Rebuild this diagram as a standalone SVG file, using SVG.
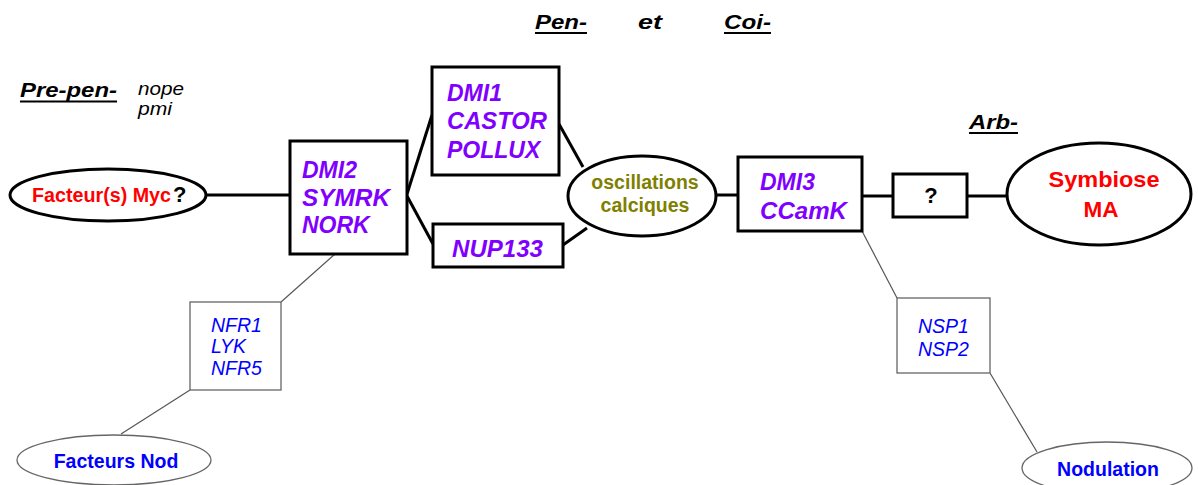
<svg xmlns="http://www.w3.org/2000/svg" width="1198" height="485" viewBox="0 0 1198 485">
<style>
text{font-family:"Liberation Sans",Arial,sans-serif;}
.hd{font-size:21px;font-weight:bold;font-style:italic;fill:#000;}
.ul{stroke:#000;stroke-width:2;}
.thk{fill:#fff;stroke:#000;stroke-width:3;}
.thn{fill:#fff;stroke:#666;stroke-width:1.3;}
.pu{font-size:23px;font-weight:bold;font-style:italic;fill:#8000ff;}
.bl{font-size:19.5px;font-style:italic;fill:#0000ff;}
.blb{font-size:19.5px;font-weight:bold;fill:#0000ff;}
.c1{stroke:#000;stroke-width:3;fill:none;}
.c2{stroke:#555;stroke-width:1.2;fill:none;}
</style>
<rect width="1198" height="485" fill="#fff"/>
<g id="headers">
<text class="hd" x="20" y="97" textLength="97" lengthAdjust="spacingAndGlyphs">Pre-pen-</text>
<line class="ul" x1="20" y1="101.5" x2="117" y2="101.5"/>
<text x="138" y="95" font-size="18" font-style="italic" textLength="46" lengthAdjust="spacingAndGlyphs">nope</text>
<text x="138" y="115" font-size="18" font-style="italic" textLength="34" lengthAdjust="spacingAndGlyphs">pmi</text>
<text class="hd" x="535" y="29" textLength="52" lengthAdjust="spacingAndGlyphs">Pen-</text>
<line class="ul" x1="535" y1="33" x2="587" y2="33"/>
<text class="hd" x="638" y="29" textLength="24" lengthAdjust="spacingAndGlyphs">et</text>
<text class="hd" x="724" y="29" textLength="47" lengthAdjust="spacingAndGlyphs">Coi-</text>
<line class="ul" x1="724" y1="33" x2="771" y2="33"/>
<text class="hd" x="969" y="129" textLength="49" lengthAdjust="spacingAndGlyphs">Arb-</text>
<line class="ul" x1="969" y1="133" x2="1018" y2="133"/>
</g>
<g id="connectors">
<line class="c1" x1="206" y1="195" x2="290" y2="195"/>
<line class="c1" x1="407" y1="194" x2="432" y2="115"/>
<line class="c1" x1="407" y1="196" x2="433" y2="244"/>
<line class="c1" x1="559" y1="124" x2="583" y2="167"/>
<line class="c1" x1="563" y1="245" x2="587" y2="228"/>
<line class="c1" x1="716" y1="195" x2="738" y2="195"/>
<line class="c1" x1="862" y1="196" x2="893" y2="196"/>
<line class="c1" x1="967" y1="196" x2="1007" y2="196"/>
<line class="c2" x1="335" y1="254" x2="281" y2="302"/>
<line class="c2" x1="190" y1="390" x2="121" y2="434"/>
<line class="c2" x1="862" y1="231" x2="897" y2="298"/>
<line class="c2" x1="990" y1="373" x2="1037" y2="452"/>
</g>
<g id="myc">
<ellipse class="thk" cx="108" cy="195" rx="98" ry="26"/>
<text x="32" y="202" font-size="20" font-weight="bold" fill="#ff0000" textLength="139" lengthAdjust="spacingAndGlyphs">Facteur(s) Myc</text>
<text x="173" y="202" font-size="22" font-weight="bold" fill="#000">?</text>
</g>
<g id="dmi2">
<rect class="thk" x="290" y="141" width="117" height="113"/>
<text class="pu" x="302" y="178">DMI2</text>
<text class="pu" x="302" y="206" textLength="88" lengthAdjust="spacingAndGlyphs">SYMRK</text>
<text class="pu" x="302" y="233">NORK</text>
</g>
<g id="dmi1">
<rect class="thk" x="432" y="67" width="127" height="108"/>
<text class="pu" x="447" y="101">DMI1</text>
<text class="pu" x="447" y="129" textLength="100" lengthAdjust="spacingAndGlyphs">CASTOR</text>
<text class="pu" x="447" y="158">POLLUX</text>
</g>
<g id="nup133">
<rect class="thk" x="433" y="224" width="130" height="43"/>
<text class="pu" x="452" y="257" textLength="91" lengthAdjust="spacingAndGlyphs">NUP133</text>
</g>
<g id="oscillations">
<ellipse class="thk" cx="642" cy="196" rx="74" ry="40"/>
<text x="645" y="189" font-size="19.5" font-weight="bold" fill="#808000" text-anchor="middle">oscillations</text>
<text x="645" y="212" font-size="19.5" font-weight="bold" fill="#808000" text-anchor="middle">calciques</text>
</g>
<g id="dmi3">
<rect class="thk" x="738" y="157" width="124" height="74"/>
<text class="pu" x="760" y="190">DMI3</text>
<text class="pu" x="760" y="219" textLength="87" lengthAdjust="spacingAndGlyphs">CCamK</text>
</g>
<g id="unknown">
<rect class="thk" x="893" y="174" width="74" height="43"/>
<text x="931" y="203" font-size="22" font-weight="bold" text-anchor="middle">?</text>
</g>
<g id="symbiose">
<ellipse class="thk" cx="1099" cy="194" rx="92" ry="51"/>
<text x="1104" y="187" font-size="22" font-weight="bold" fill="#ff0000" text-anchor="middle" textLength="111" lengthAdjust="spacingAndGlyphs">Symbiose</text>
<text x="1101" y="217" font-size="22" font-weight="bold" fill="#ff0000" text-anchor="middle" textLength="35" lengthAdjust="spacingAndGlyphs">MA</text>
</g>
<g id="nfr">
<rect class="thn" x="190" y="302" width="91" height="88"/>
<text class="bl" x="211" y="332">NFR1</text>
<text class="bl" x="211" y="353">LYK</text>
<text class="bl" x="211" y="375">NFR5</text>
</g>
<g id="facteurs-nod">
<ellipse class="thn" cx="114" cy="460" rx="97" ry="25"/>
<text class="blb" x="116" y="468" text-anchor="middle">Facteurs Nod</text>
</g>
<g id="nsp">
<rect class="thn" x="897" y="298" width="93" height="75"/>
<text class="bl" x="918" y="333">NSP1</text>
<text class="bl" x="918" y="356">NSP2</text>
</g>
<g id="nodulation">
<ellipse class="thn" cx="1107" cy="468" rx="85" ry="26"/>
<text class="blb" x="1108" y="476" text-anchor="middle">Nodulation</text>
</g>
</svg>
